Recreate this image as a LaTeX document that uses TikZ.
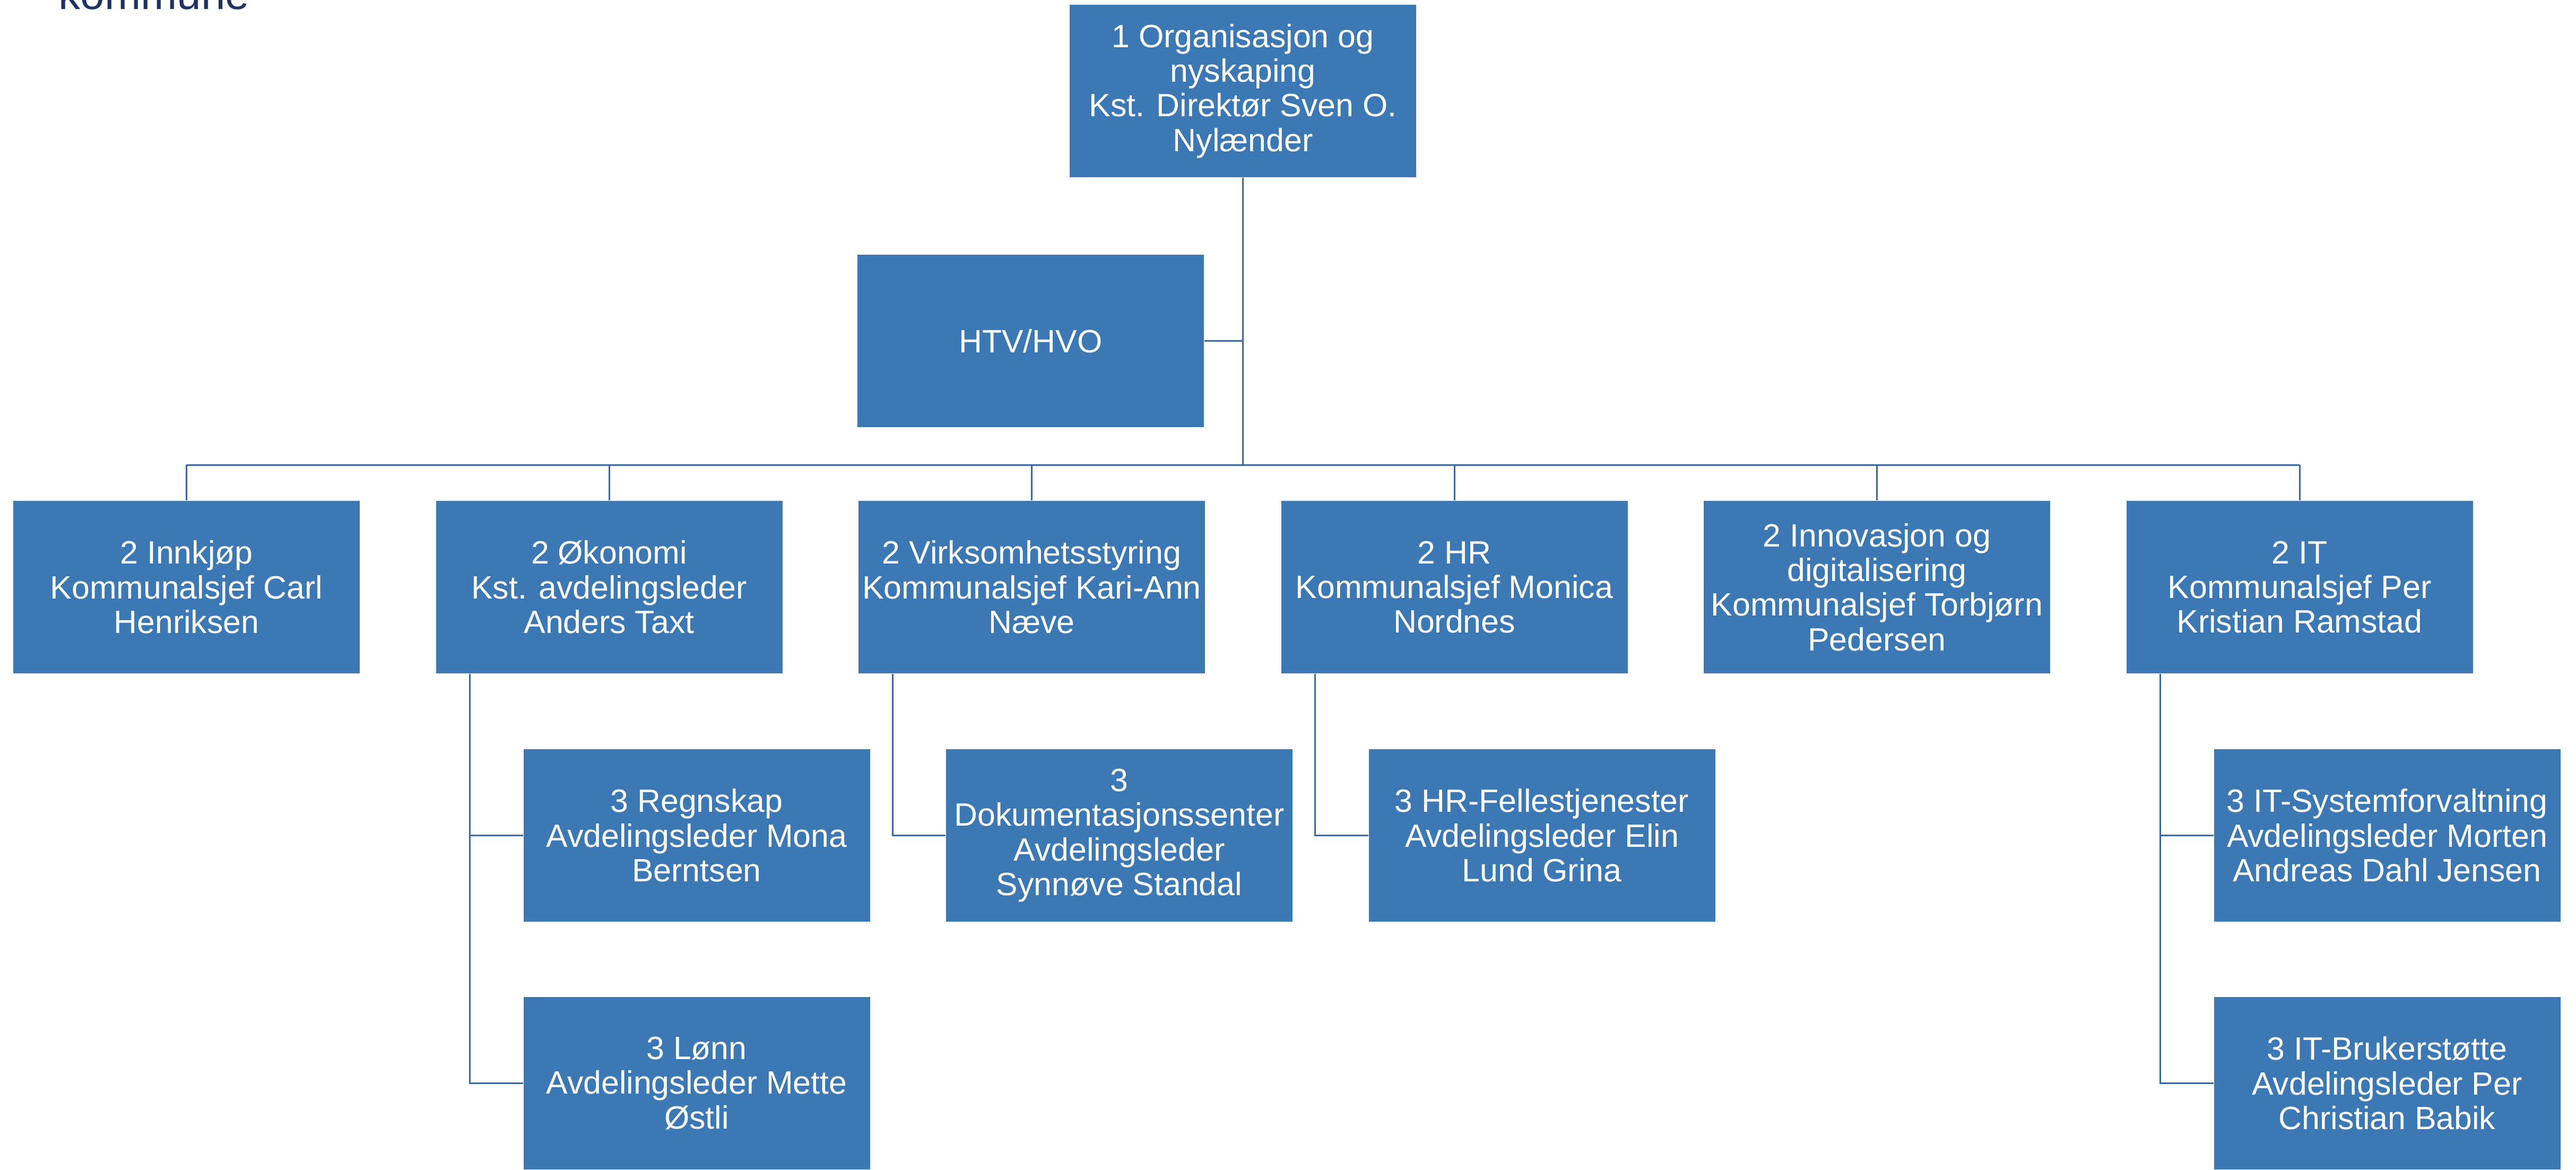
\documentclass[tikz,border=0pt]{standalone}
\usepackage{fontspec}
\setmainfont{Liberation Sans}
\usetikzlibrary{calc}
\definecolor{boxblue}{HTML}{3C78B4}
\definecolor{lineblue}{HTML}{3868A4}
\definecolor{titlenavy}{HTML}{1F3264}
\tikzset{
  orgbox/.style={rectangle, fill=boxblue, draw=none, minimum width=6.53cm, minimum height=3.25cm,
    inner sep=0pt, align=center, text=white, font=\fontsize{17.3}{18.6}\selectfont},
  conn/.style={draw=lineblue, line width=0.85pt}
}
\begin{document}
\begin{tikzpicture}
\useasboundingbox (0,0) rectangle (48.55,-22.04);
\fill[white] (0,0) rectangle (48.55,-22.04);
\node[anchor=base west, text=titlenavy, font=\fontsize{23.3}{26}\selectfont, inner sep=0pt] (title) at (1.10,-0.17) {kommune};

\node[orgbox] (top) at (23.425,-1.715) {1 Organisasjon og\\nyskaping\\Kst. Direktør Sven O.\\Nylænder};
\node[orgbox] (htv) at (19.425,-6.425) {HTV/HVO};

\node[orgbox] (innk) at (3.515,-11.065) {2 Innkjøp\\Kommunalsjef Carl\\Henriksen};
\node[orgbox] (oko) at (11.48,-11.065) {2 Økonomi\\Kst. avdelingsleder\\Anders Taxt};
\node[orgbox] (virk) at (19.445,-11.065) {2 Virksomhetsstyring\\Kommunalsjef Kari-Ann\\Næve};
\node[orgbox] (hr) at (27.41,-11.065) {2 HR\\Kommunalsjef Monica\\Nordnes};
\node[orgbox] (inno) at (35.375,-11.065) {2 Innovasjon og\\digitalisering\\Kommunalsjef Torbjørn\\Pedersen};
\node[orgbox] (it) at (43.34,-11.065) {2 IT\\Kommunalsjef Per\\Kristian Ramstad};

\node[orgbox] (regn) at (13.13,-15.745) {3 Regnskap\\Avdelingsleder Mona\\Berntsen};
\node[orgbox] (lonn) at (13.13,-20.415) {3 Lønn\\Avdelingsleder Mette\\Østli};
\node[orgbox] (dok) at (21.095,-15.745) {3\\Dokumentasjonssenter\\Avdelingsleder\\Synnøve Standal};
\node[orgbox] (hrf) at (29.06,-15.745) {3 HR-Fellestjenester\\Avdelingsleder Elin\\Lund Grina};
\node[orgbox] (itsys) at (44.99,-15.745) {3 IT-Systemforvaltning\\Avdelingsleder Morten\\Andreas Dahl Jensen};
\node[orgbox] (itbr) at (44.99,-20.415) {3 IT-Brukerstøtte\\Avdelingsleder Per\\Christian Babik};

\coordinate (bus) at (0,-8.76);
% top level
\draw[conn] (top.south) -- (top.south |- bus);
\draw[conn] (top.south |- htv.east) -- (htv.east);
\draw[conn] (innk.north |- bus) -- (it.north |- bus);
\foreach \n in {innk,oko,virk,hr,inno,it}{
  \draw[conn] (\n.north |- bus) -- (\n.north);
}
% level 3
\draw[conn] ($(oko.south west)+(0.65,0)$) |- (lonn.west);
\draw[conn] ($(oko.south west)+(0.65,0)$) |- (regn.west);
\draw[conn] ($(virk.south west)+(0.65,0)$) |- (dok.west);
\draw[conn] ($(hr.south west)+(0.65,0)$) |- (hrf.west);
\draw[conn] ($(it.south west)+(0.65,0)$) |- (itbr.west);
\draw[conn] ($(it.south west)+(0.65,0)$) |- (itsys.west);
\end{tikzpicture}
\end{document}
